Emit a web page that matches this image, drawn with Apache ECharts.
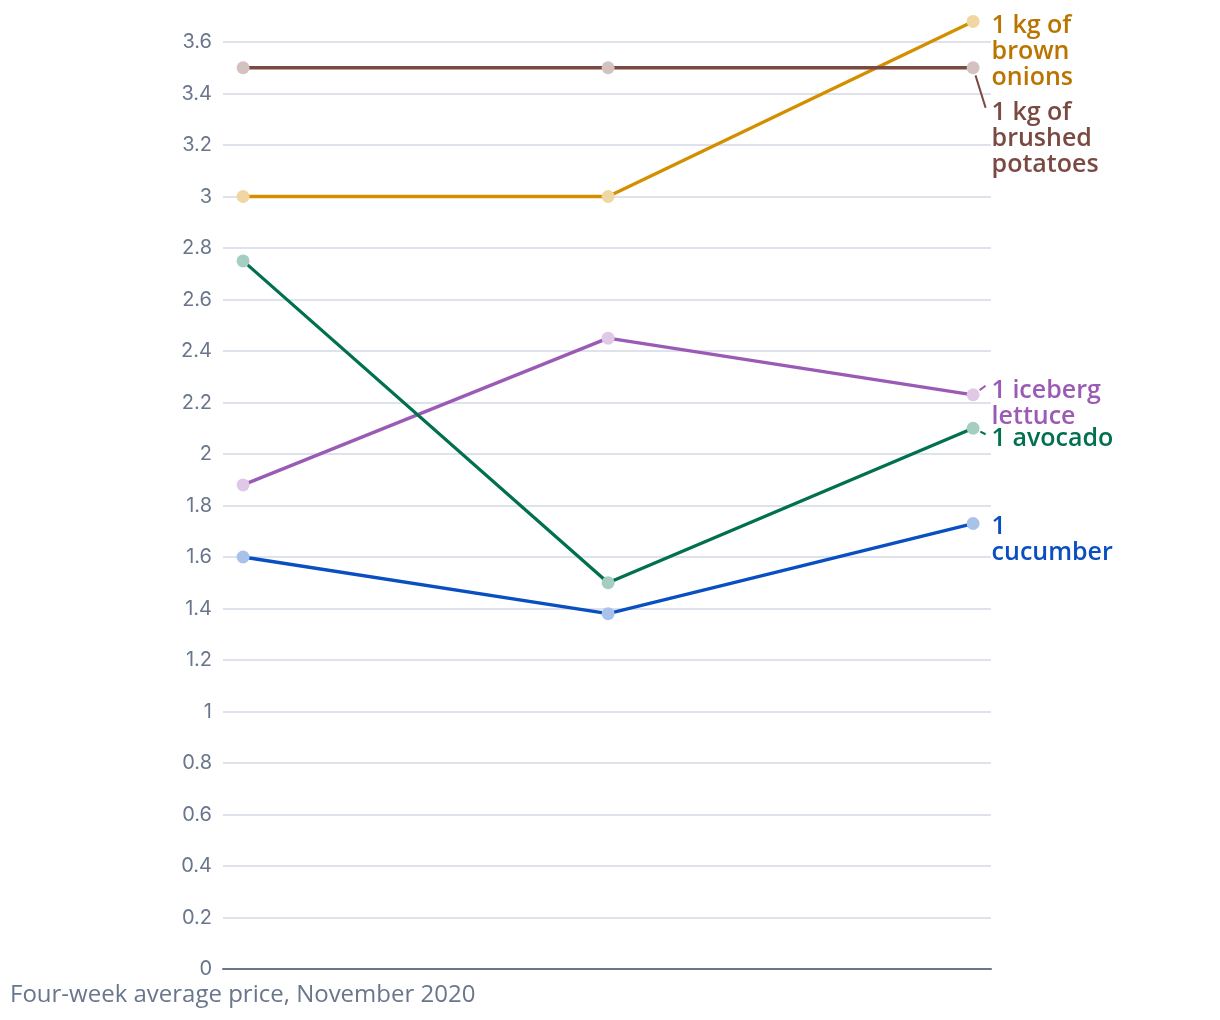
<!DOCTYPE html>
<html>
<head>
<meta charset="utf-8">
<script src="https://cdn.jsdelivr.net/npm/echarts@6/dist/echarts.min.js"></script>
<style>html,body{margin:0;padding:0;background:#fff}#c{width:1220px;height:1020px}</style>
</head>
<body>
<div id="c"></div>
<script>
const categories = ['Week 1', 'Week 2', 'Week 3'];
const seriesNames = ['1 kg of\nbrown\nonions', '1 kg of\nbrushed\npotatoes', '1 iceberg\nlettuce', '1 avocado', '1\ncucumber'];
const onions = [3.0, 3.0, 3.68];
const potatoes = [3.5, 3.5, 3.5];
const lettuce = [1.88, 2.45, 2.23];
const avocado = [2.75, 1.5, 2.1];
const cucumber = [1.6, 1.38, 1.73];
const yTicks = [0, 0.2, 0.4, 0.6, 0.8, 1, 1.2, 1.4, 1.6, 1.8, 2, 2.2, 2.4, 2.6, 2.8, 3, 3.2, 3.4, 3.6];
const caption = 'Four-week average price, November 2020';

const styles = [
  {line: '#d48f00', dot: '#f0d6a0', label: '#b97500', dy: 30, leader: false},
  {line: '#7a4a42', dot: '#d3c2bf', label: '#7a4a42', dy: 71, leader: true},
  {line: '#9b5bb5', dot: '#dfc9e7', label: '#9b5bb5', dy: 9, leader: true},
  {line: '#00704f', dot: '#a6cdc2', label: '#00704f', dy: 11, leader: true},
  {line: '#0a4fc2', dot: '#a9c2ea', label: '#0a4fc2', dy: 16, leader: false}
];
const values = [onions, potatoes, lettuce, avocado, cucumber];
const LABEL_FONT = '"Open Sans", sans-serif';
const LINE_H = 26;
const LABEL_DIST = 12;
const SYM = 13;

const series = values.map((vals, i) => {
  const s = styles[i];
  const last = vals.length - 1;
  return {
    type: 'line',
    name: seriesNames[i],
    data: vals.map((v, j) => j === last ? {
      value: [j, v],
      label: {
        show: true,
        position: 'right',
        distance: LABEL_DIST,
        color: s.label,
        fontFamily: LABEL_FONT,
        fontWeight: 600,
        fontSize: 25,
        lineHeight: LINE_H,
        align: 'left',
        formatter: seriesNames[i]
      }
    } : [j, v]),
    clip: false,
    symbol: 'circle',
    symbolSize: SYM,
    showAllSymbol: true,
    lineStyle: {color: s.line, width: 3.3},
    itemStyle: {color: s.dot},
    emphasis: {disabled: true},
    label: {show: false},
    labelLayout: {dy: s.dy}
  };
});

const chart = echarts.init(document.getElementById('c'), null, {renderer: 'canvas'});
chart.setOption({
  animation: false,
  backgroundColor: '#fff',
  title: {
    text: caption,
    left: 10,
    top: 983,
    padding: 0,
    textStyle: {fontFamily: LABEL_FONT, fontWeight: 'normal', fontSize: 24, color: '#69768c'}
  },
  grid: {left: 223, right: 229, top: 42, bottom: 51},
  xAxis: {
    type: 'value',
    min: -0.055,
    max: 2.049,
    axisLine: {show: true, lineStyle: {color: '#69768c', width: 2}},
    axisTick: {show: false},
    axisLabel: {show: false},
    splitLine: {show: false}
  },
  yAxis: {
    type: 'value',
    min: yTicks[0],
    max: yTicks[yTicks.length - 1],
    interval: 0.2,
    axisLine: {show: false},
    axisTick: {show: false},
    axisLabel: {
      margin: 11,
      color: '#69768c',
      fontFamily: 'Inter, sans-serif',
      fontSize: 20,
      formatter: v => String(Math.round(v * 10) / 10)
    },
    splitLine: {lineStyle: {color: '#d3d8e3', width: 1.5}}
  },
  series: series
});

// leader lines from the last point to its label, derived from the data position
const leaders = [];
values.forEach((vals, i) => {
  const s = styles[i];
  if (!s.leader) return;
  const last = vals.length - 1;
  const [cx, cy] = chart.convertToPixel({gridIndex: 0}, [last, vals[last]]);
  const lines = seriesNames[i].split('\n').length;
  const labelLeft = cx + SYM / 2 + LABEL_DIST;
  const labelTop = cy + s.dy - lines * LINE_H / 2;
  const ex = labelLeft - 6, ey = labelTop + 8;
  const dx = ex - cx, dy = ey - cy;
  const len = Math.sqrt(dx * dx + dy * dy) || 1;
  leaders.push({
    type: 'line',
    silent: true,
    z: 10,
    shape: {x1: cx + dx / len * 8, y1: cy + dy / len * 8, x2: ex, y2: ey},
    style: {stroke: s.line, lineWidth: 2}
  });
});
chart.setOption({graphic: leaders});
</script>
</body>
</html>
